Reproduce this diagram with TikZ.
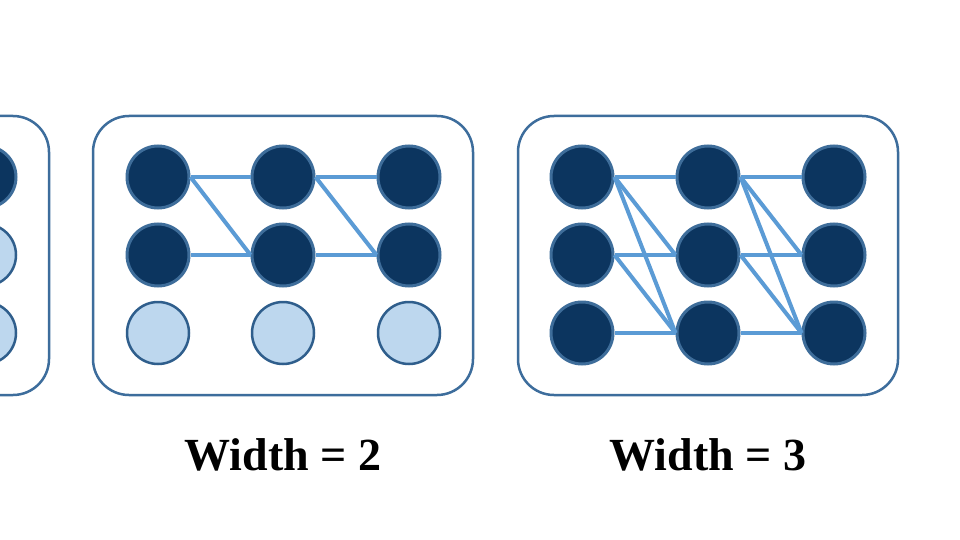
\documentclass[tikz,border=0pt]{standalone}
\usepackage{fontspec}
\setmainfont{Liberation Serif}
\begin{document}
\begin{tikzpicture}[x=1pt,y=-1pt,
  panel/.style={draw=boxc,line width=2.5pt,rounded corners=36pt},
  on/.style={circle,draw=onb,fill=darkc,line width=3pt,minimum size=62pt,inner sep=0pt},
  off/.style={circle,draw=offb,fill=lightc,line width=2.5pt,minimum size=62pt,inner sep=0pt},
  link/.style={draw=edgec,line width=4pt},
  lbl/.style={font=\fontsize{46}{50}\selectfont\bfseries,anchor=base}]
\definecolor{boxc}{HTML}{3D6D9C}
\definecolor{darkc}{HTML}{0C355F}
\definecolor{onb}{HTML}{3E6D9A}
\definecolor{offb}{HTML}{2F5E8C}
\definecolor{lightc}{HTML}{BDD7EE}
\definecolor{edgec}{HTML}{5B9BD5}
\useasboundingbox[fill=white] (0,0) rectangle (960,540);
% left partial panel
\draw[panel] (-331,116) rectangle (49,395);
\node[on]  (a1) at (-15,177) {};
\node[off] (a2) at (-15,255) {};
\node[off] (a3) at (-15,333) {};
% width 2 panel
\draw[panel] (93,116) rectangle (473,395);
\node[on]  (b11) at (158,177) {};
\node[on]  (b12) at (158,255) {};
\node[off] (b13) at (158,333) {};
\node[on]  (b21) at (283,177) {};
\node[on]  (b22) at (283,255) {};
\node[off] (b23) at (283,333) {};
\node[on]  (b31) at (409,177) {};
\node[on]  (b32) at (409,255) {};
\node[off] (b33) at (409,333) {};
\draw[link] (b11.east) -- (b21.west);
\draw[link] (b11.east) -- (b22.west);
\draw[link] (b12.east) -- (b22.west);
\draw[link] (b21.east) -- (b31.west);
\draw[link] (b21.east) -- (b32.west);
\draw[link] (b22.east) -- (b32.west);
% width 3 panel
\draw[panel] (518,116) rectangle (898,395);
\foreach \c/\x in {1/582,2/708,3/834}{
  \foreach \r/\y in {1/177,2/255,3/333}{
    \node[on] (c\c\r) at (\x,\y) {};
  }
}
\foreach \s/\t in {1/2,2/3}{
  \draw[link] (c\s1.east) -- (c\t1.west);
  \draw[link] (c\s1.east) -- (c\t2.west);
  \draw[link] (c\s1.east) -- (c\t3.west);
  \draw[link] (c\s2.east) -- (c\t2.west);
  \draw[link] (c\s2.east) -- (c\t3.west);
  \draw[link] (c\s3.east) -- (c\t3.west);
}
\node[lbl] (l2) at (283,470) {Width = 2};
\node[lbl] (l3) at (708,470) {Width = 3};
\end{tikzpicture}
\end{document}
